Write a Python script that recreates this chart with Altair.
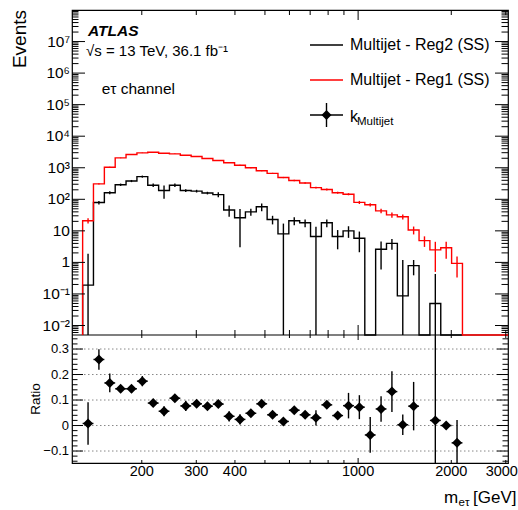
import altair as alt
import pandas as pd

# ---------------- data ----------------
edges = [128.8, 139.6, 151.4, 164.1, 177.9, 192.9, 209.1, 226.7, 245.7, 266.4,
         288.8, 313.1, 339.4, 367.9, 398.9, 432.4, 468.8, 508.2, 550.9, 597.2,
         647.4, 701.9, 760.9, 824.9, 894.2, 969.4, 1051.0, 1139.3, 1235.1, 1339.0,
         1451.6, 1573.6, 1705.9, 1849.4, 2004.9, 2173.5]

# Multijet - Reg1 (SS), red
reg1 = [21, 309, 1040, 2050, 2620, 2970, 3100, 2890, 2760, 2500,
        2270, 1960, 1700, 1440, 1200, 1000, 805, 665, 490, 395,
        330, 235, 205, 162, 145, 80, 67, 43, 32, 28,
        10.7, 4.9, 2.5, 2.9, 0.93]
reg1_err = [4, 15, 30, 45, 50, 55, 55, 55, 50, 50,
            48, 45, 42, 38, 35, 32, 28, 26, 22, 20,
            18, 15, 14, 12, 11, 9, 8, 7, 6, 5,
            3, 1.8, 2.0, 1.6, 0.6]

# Multijet - Reg2 (SS), black
reg2 = [0.19, 79, 162, 290, 380, 525, 280, 190, 280, 190,
        182, 158, 141, 46, 26, 40, 58, 23, 8, 21,
        18, 6.6, 18, 6.6, 10, 5.8, 0, 2.6, 4.0, 0.087,
        0.79, 0, 0.05, 0, 0]
reg2_err = [1.7, 10, 18, 25, 30, 40, 35, 85, 35, 20,
            18, 15, 25, 18, 23, 10, 16, 7, 9, 6,
            5, 7, 5, 4, 4, 3.7, 0, 2, 1.5, 1.1,
            0.4, 0, 0.38, 0, 0]

# k_Multijet ratio
ratio = [0.008, 0.259, 0.167, 0.144, 0.144, 0.174, 0.088, 0.056, 0.107, 0.077,
         0.085, 0.076, 0.084, 0.036, 0.024, 0.048, 0.085, 0.042, 0.016, 0.060,
         0.042, 0.030, 0.081, 0.039, 0.078, 0.072, -0.037, 0.065, 0.133, 0.003,
         0.076, None, 0.020, 0.000, -0.068]
ratio_err = [0.083, 0.040, 0.037, 0.010, 0.015, 0.020, 0.015, 0.020, 0.010, 0.020,
             0.010, 0.010, 0.010, 0.020, 0.020, 0.010, 0.015, 0.010, 0.010, 0.010,
             0.010, 0.030, 0.010, 0.010, 0.050, 0.047, 0.070, 0.050, 0.080, 0.040,
             0.095, None, 2.0, 0.010, 0.090]

# tick values / labels
y_major = [0.01, 0.1, 1, 10, 100, 1e3, 1e4, 1e5, 1e6, 1e7]
y_major_text = ["10⁻²", "10⁻¹", "1", "10", "10²", "10³", "10⁴", "10⁵", "10⁶", "10⁷"]
r_major = [-0.1, 0.0, 0.1, 0.2, 0.3]
r_major_text = ["−0.1", "0", "0.1", "0.2", "0.3"]
x_label_vals = [200, 300, 400, 1000, 2000]
x_label_text = ["200", "300", "400", "1000", "2000"]
x_last_label_val = [3000]
x_last_label_text = ["3000"]
x_minor_ticks = [200, 300, 400, 500, 600, 700, 800, 900, 2000, 3000]
x_major_ticks = [1000]

# ---------------- layout ----------------
XMIN, XMAX = 119.0, 3050.0
YMIN, YMAX = 0.005, 1.0e8
RMIN, RMAX = -0.147, 0.355
W, H1, H = 436, 325, 453
FONT = "Liberation Sans"

y_minor_ticks = [m * 10.0 ** e for e in range(-3, 8) for m in range(2, 10)
                 if YMIN < m * 10.0 ** e < YMAX]
r_minor_ticks = [round(-0.14 + 0.02 * i, 2) for i in range(25)]
r_minor_ticks = [v for v in r_minor_ticks if all(abs(v - m) > 1e-6 for m in r_major)]

xs = alt.Scale(type="log", domain=[XMIN, XMAX], nice=False)
ys_up = alt.Scale(type="log", domain=[YMIN, YMAX], range=[H1, 0], nice=False, clamp=True)
ys_lo = alt.Scale(type="linear", domain=[RMIN, RMAX], range=[H, H1], nice=False,
                  zero=False, clamp=True)


def X(f):
    return alt.X(f, type="quantitative", scale=xs, axis=None)


def YU(f):
    return alt.Y(f, type="quantitative", scale=ys_up, axis=None)


def YL(f):
    return alt.Y(f, type="quantitative", scale=ys_lo, axis=None)


centers = [(edges[k] * edges[k + 1]) ** 0.5 for k in range(len(edges) - 1)]


def step_df(vals, extend):
    rows = [{"x": edges[0], "y": YMIN, "i": 0}]
    for k, v in enumerate(vals):
        rows.append({"x": edges[k], "y": v if v > 0 else YMIN, "i": k + 1})
    rows.append({"x": edges[-1], "y": YMIN, "i": len(vals) + 1})
    if extend:
        rows.append({"x": XMAX, "y": YMIN, "i": len(vals) + 2})
    return pd.DataFrame(rows)


def err_df(vals, errs):
    rows = []
    for k, (v, e) in enumerate(zip(vals, errs)):
        if v > 0 and e > 0:
            lo = v - e
            rows.append({"c": centers[k], "lo": lo if lo > YMIN else YMIN, "hi": v + e})
    return pd.DataFrame(rows)


layers = []

# separator between panels
layers.append(alt.Chart(pd.DataFrame({"a": [0]})).mark_rule(color="black", strokeWidth=1.2)
              .encode(x=alt.value(0), x2=alt.value(W), y=alt.value(H1)))

# dotted grid in ratio panel
layers.append(alt.Chart(pd.DataFrame({"v": r_major})).mark_rule(
    color="#888888", strokeWidth=1, strokeDash=[1.5, 2.5])
    .encode(y=YL("v"), x=alt.value(0), x2=alt.value(W)))

# histograms
layers.append(alt.Chart(step_df(reg2, False)).mark_line(
    color="black", strokeWidth=1.4, interpolate="step-after")
    .encode(x=X("x"), y=YU("y"), order=alt.Order("i:Q")))
layers.append(alt.Chart(step_df(reg1, True)).mark_line(
    color="#ff0000", strokeWidth=1.4, interpolate="step-after")
    .encode(x=X("x"), y=YU("y"), order=alt.Order("i:Q")))
layers.append(alt.Chart(err_df(reg2, reg2_err)).mark_rule(color="black", strokeWidth=1.4)
              .encode(x=X("c"), y=YU("lo"), y2="hi"))
layers.append(alt.Chart(err_df(reg1, reg1_err)).mark_rule(color="#ff0000", strokeWidth=1.4)
              .encode(x=X("c"), y=YU("lo"), y2="hi"))

# ratio points
rrows = []
for k, (r, e) in enumerate(zip(ratio, ratio_err)):
    if r is None:
        continue
    rrows.append({"c": centers[k], "r": r, "lo": r - e, "hi": r + e,
                  "el": edges[k], "eh": edges[k + 1]})
rdf = pd.DataFrame(rrows)
layers.append(alt.Chart(rdf).mark_rule(color="black", strokeWidth=1.4)
              .encode(x=X("c"), y=YL("lo"), y2="hi"))
layers.append(alt.Chart(rdf).mark_rule(color="black", strokeWidth=1.4)
              .encode(x=X("el"), x2="eh", y=YL("r")))
layers.append(alt.Chart(rdf).mark_point(shape="diamond", filled=True, size=100,
                                        color="black", opacity=1, strokeWidth=0)
              .encode(x=X("c"), y=YL("r")))


# ticks
def yticks(vals, yf, x0, x1):
    return alt.Chart(pd.DataFrame({"v": vals})).mark_rule(color="black", strokeWidth=1).encode(
        y=yf("v"), x=alt.value(x0), x2=alt.value(x1))


def xticks(vals, y0, y1):
    return alt.Chart(pd.DataFrame({"v": vals})).mark_rule(color="black", strokeWidth=1).encode(
        x=X("v"), y=alt.value(y0), y2=alt.value(y1))


layers += [
    yticks(y_major, YU, 0, 13), yticks(y_major, YU, W, W - 13),
    yticks(y_minor_ticks, YU, 0, 6.5), yticks(y_minor_ticks, YU, W, W - 6.5),
    yticks(r_major, YL, 0, 11), yticks(r_major, YL, W, W - 11),
    yticks(r_minor_ticks, YL, 0, 5.5), yticks(r_minor_ticks, YL, W, W - 5.5),
    xticks(x_major_ticks, H1, H1 - 10), xticks(x_minor_ticks, H1, H1 - 5),
    xticks(x_major_ticks, 0, 10), xticks(x_minor_ticks, 0, 5),
    xticks(x_major_ticks, H, H - 5), xticks(x_minor_ticks, H, H - 3),
    xticks(x_major_ticks, H1, H1 + 5), xticks(x_minor_ticks, H1, H1 + 3),
]

# tick labels
layers.append(alt.Chart(pd.DataFrame({"v": y_major, "t": y_major_text})).mark_text(
    font=FONT, fontSize=15.5, align="right", baseline="middle", color="black")
    .encode(y=YU("v"), x=alt.value(-2), text="t:N"))
layers.append(alt.Chart(pd.DataFrame({"v": r_major, "t": r_major_text})).mark_text(
    font=FONT, fontSize=13, align="right", baseline="middle", color="black")
    .encode(y=YL("v"), x=alt.value(-3), text="t:N"))
layers.append(alt.Chart(pd.DataFrame({"v": x_label_vals, "t": x_label_text})).mark_text(
    font=FONT, fontSize=14.5, align="center", baseline="top", color="black")
    .encode(x=X("v"), y=alt.value(H + 2), text="t:N"))
layers.append(alt.Chart(pd.DataFrame({"v": x_last_label_val, "t": x_last_label_text})).mark_text(
    font=FONT, fontSize=14.5, align="center", baseline="top", color="black", dx=-4)
    .encode(x=X("v"), y=alt.value(H + 2), text="t:N"))


def label(text, x, y, size, align="left", baseline="alphabetic", **kw):
    return alt.Chart(pd.DataFrame({"t": [text]})).mark_text(
        font=FONT, fontSize=size, align=align, baseline=baseline, color=kw.pop("color", "black"), **kw
    ).encode(x=alt.value(x), y=alt.value(y), text="t:N")


# axis titles
layers.append(label("Events", -46.5, 0, 19, align="right", angle=270))
layers.append(label("Ratio", -32, 389, 13.5, align="center", angle=270))
layers.append(label("m", 372, 493, 17))
layers.append(label("eτ", 386.5, 496, 11.5))
layers.append(label("[GeV]", 401, 493, 17))

# annotations
layers.append(label("ATLAS", 16, 26, 15.5, fontStyle="italic", fontWeight="bold"))
layers.append(label("√s = 13 TeV, 36.1 fb⁻¹", 14, 46, 15))
layers.append(label("eτ channel", 29.7, 84, 15.5))

# legend
layers.append(alt.Chart(pd.DataFrame({"a": [0]})).mark_rule(color="black", strokeWidth=1.4)
              .encode(x=alt.value(238), x2=alt.value(271), y=alt.value(35)))
layers.append(label("Multijet - Reg2 (SS)", 278, 39.5, 16))
layers.append(alt.Chart(pd.DataFrame({"a": [0]})).mark_rule(color="#ff0000", strokeWidth=1.4)
              .encode(x=alt.value(238), x2=alt.value(271), y=alt.value(70)))
layers.append(label("Multijet - Reg1 (SS)", 278, 74.5, 16))
layers.append(alt.Chart(pd.DataFrame({"a": [0]})).mark_rule(color="black", strokeWidth=1.4)
              .encode(x=alt.value(238), x2=alt.value(271), y=alt.value(105)))
layers.append(alt.Chart(pd.DataFrame({"a": [0]})).mark_rule(color="black", strokeWidth=1.4)
              .encode(x=alt.value(254.5), y=alt.value(93), y2=alt.value(117)))
layers.append(alt.Chart(pd.DataFrame({"a": [0]})).mark_point(
    shape="diamond", filled=True, size=100, color="black", opacity=1, strokeWidth=0)
    .encode(x=alt.value(254.5), y=alt.value(105)))
layers.append(label("k", 278, 111.5, 16))
layers.append(label("Multijet", 285, 115, 11.5))

chart = (
    alt.layer(*layers)
    .resolve_scale(y="independent")
    .properties(width=W, height=H,
                autosize=alt.AutoSizeParams(type="none"),
                padding={"left": 72, "top": 10, "right": 10, "bottom": 47})
    .configure_view(stroke="black", strokeWidth=1.2)
)

chart.save("out.html", embed_options={"renderer": "svg", "actions": False})
